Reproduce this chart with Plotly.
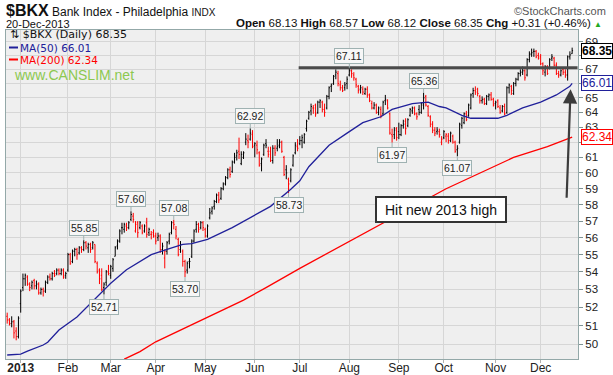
import math
import pandas as pd
import plotly.graph_objects as go

# ---------------- data ----------------
holidays = ["2012-12-25", "2013-01-01", "2013-01-21", "2013-02-18", "2013-03-29",
            "2013-05-27", "2013-07-04", "2013-09-02", "2013-11-28"]
dates = [d.strftime("%Y-%m-%d") for d in pd.bdate_range("2012-12-21", "2013-12-20")
         if d.strftime("%Y-%m-%d") not in holidays]

opens = [
    # Dec 2012
    51.5, 51.3, 51.1, 51.2, 50.7, 50.4,
    # Jan
    52.2, 53.1, 53.6, 53.7, 53.3, 53.2, 53.5, 53.2, 53.3, 52.8, 53.0, 52.9, 53.4, 53.7, 53.6, 53.9, 53.9, 54.1, 53.9, 54.1, 53.8,
    # Feb
    54.1, 55.0, 54.6, 55.2, 55.3, 55.1, 55.4, 55.3, 55.7, 55.4, 55.6, 55.4, 55.6, 54.5, 54.1, 53.8, 53.1, 53.4, 54.0,
    # Mar
    53.8, 54.2, 54.9, 55.5, 55.8, 56.6, 56.5, 56.7, 56.6, 57.1, 57.3, 56.4, 56.9, 56.6, 56.7, 56.4, 56.9, 56.3, 56.2, 56.3,
    # Apr
    56.1, 56.0, 56.1, 55.3, 54.8, 55.2, 55.8, 56.3, 56.9, 56.5, 55.9, 55.3, 55.2, 54.6, 54.1, 54.6, 54.9, 55.8, 56.5, 56.8, 56.6, 56.9,
    # May
    56.5, 56.1, 57.2, 57.6, 57.9, 58.2, 58.6, 58.4, 59.0, 59.3, 59.7, 60.2, 60.1, 60.7, 61.1, 61.4, 60.6, 61.0, 62.0, 62.1, 62.2, 62.5,
    # Jun
    61.8, 61.8, 61.3, 60.6, 61.2, 61.9, 61.4, 61.4, 60.8, 61.6, 61.6, 61.8, 62.0, 61.0, 60.2, 59.6, 59.5, 60.5, 61.3, 61.7,
    # Jul
    61.9, 62.1, 62.0, 62.9, 63.6, 64.1, 64.3, 64.5, 64.0, 64.7, 64.7, 64.2, 64.3, 65.1, 65.8, 66.0, 66.6, 66.7, 65.9, 65.7, 65.7, 66.0,
    # Aug
    66.6, 66.9, 66.6, 66.3, 65.8, 65.6, 65.6, 65.3, 65.6, 65.2, 64.6, 64.3, 64.5, 64.0, 64.2, 63.9, 64.8, 64.8, 63.9, 62.5, 62.5, 62.9,
    # Sep
    62.7, 62.5, 63.1, 63.4, 63.1, 63.8, 64.1, 64.3, 63.9, 64.2, 64.0, 64.5, 65.1, 64.4, 63.7, 63.2, 62.8, 62.7, 62.7, 62.0,
    # Oct
    62.3, 62.4, 62.4, 62.1, 62.4, 62.0, 61.5, 62.0, 63.1, 63.3, 63.9, 63.8, 64.3, 65.3, 65.5, 65.6, 65.1, 64.8, 64.9, 64.6, 65.1, 65.2, 64.9,
    # Nov
    64.6, 64.8, 64.3, 64.1, 64.4, 64.0, 65.7, 65.8, 65.3, 66.0, 66.3, 66.7, 66.8, 66.9, 66.6, 67.7, 68.1, 68.3, 68.3, 68.0,
    # Dec
    67.9, 67.4, 66.8, 67.2, 67.1, 67.8, 67.8, 67.3, 66.7, 66.6, 67.0, 66.8, 66.6, 67.9, 68.13,
]
highs = [
    51.7, 51.4, 51.5, 51.3, 50.9, 51.5,
    53.0, 53.9, 53.9, 53.8, 53.4, 53.5, 53.6, 53.5, 53.4, 53.1, 53.1, 53.5, 53.8, 53.9, 54.0, 54.1, 54.2, 54.2, 54.2, 54.2, 54.0,
    55.1, 55.1, 55.3, 55.4, 55.4, 55.5, 55.5, 55.85, 55.8, 55.7, 55.7, 55.8, 55.6, 54.6, 54.2, 54.2, 53.4, 54.1, 54.4,
    54.4, 54.8, 55.5, 55.9, 56.5, 56.9, 56.9, 56.9, 57.0, 57.6, 57.5, 57.0, 57.0, 57.0, 56.8, 56.8, 57.2, 56.6, 56.4, 56.5,
    56.3, 56.3, 56.2, 55.7, 55.3, 55.8, 56.3, 57.0, 57.08, 56.7, 56.0, 55.8, 55.3, 54.7, 54.6, 54.8, 55.9, 56.5, 57.0, 56.9, 57.0, 57.0,
    56.6, 56.8, 57.8, 57.9, 58.3, 58.7, 58.8, 59.1, 59.4, 59.8, 60.3, 60.4, 60.8, 61.3, 61.5, 62.3, 61.4, 61.4, 62.6, 62.5, 62.92, 62.8,
    62.0, 62.1, 61.4, 61.0, 61.9, 62.2, 61.7, 61.7, 61.8, 61.8, 62.2, 62.2, 62.1, 61.1, 60.5, 59.7, 60.3, 61.2, 62.0, 62.2,
    62.4, 62.5, 62.6, 63.5, 64.1, 64.6, 64.5, 64.6, 64.8, 64.9, 64.8, 64.6, 65.2, 65.8, 66.0, 66.6, 67.0, 66.9, 66.2, 65.9, 66.1, 66.5,
    67.11, 67.0, 66.8, 66.4, 65.9, 65.9, 65.8, 65.7, 65.8, 65.3, 64.8, 64.7, 64.6, 64.4, 64.4, 64.8, 65.2, 64.9, 64.0, 62.9, 63.0, 63.0,
    63.3, 63.2, 63.5, 63.6, 63.6, 64.3, 64.4, 64.4, 64.0, 64.5, 64.7, 65.36, 65.2, 64.5, 63.8, 63.4, 63.0, 63.0, 62.9, 62.4,
    62.8, 62.6, 62.6, 62.7, 62.5, 62.1, 61.8, 63.3, 63.7, 64.0, 64.1, 64.6, 65.3, 65.7, 65.8, 65.7, 65.2, 65.1, 65.0, 65.2, 65.3, 65.4, 65.0,
    64.8, 64.9, 64.5, 64.5, 64.6, 65.8, 66.0, 65.9, 66.1, 66.4, 66.8, 67.0, 67.2, 67.0, 67.8, 68.3, 68.5, 68.5, 68.4, 68.2,
    68.1, 67.5, 67.3, 67.3, 67.8, 68.1, 67.9, 67.5, 66.9, 67.0, 67.1, 67.0, 68.0, 68.3, 68.57,
]
lows = [
    51.1, 51.0, 50.9, 50.3, 50.2, 50.3,
    51.7, 52.9, 53.2, 53.2, 52.9, 53.0, 53.0, 53.0, 52.7, 52.7, 52.6, 52.8, 53.3, 53.5, 53.5, 53.7, 53.8, 53.8, 53.8, 53.6, 53.6,
    54.0, 54.4, 54.5, 54.9, 54.7, 55.0, 55.1, 55.2, 55.3, 55.1, 55.1, 55.3, 54.5, 53.9, 53.3, 52.9, 52.71, 53.2, 53.8,
    53.6, 54.0, 54.9, 55.3, 55.7, 56.2, 56.3, 56.4, 56.5, 57.0, 56.9, 56.3, 56.0, 56.5, 56.2, 56.3, 56.0, 56.1, 55.9, 56.0,
    55.6, 55.8, 55.1, 55.0, 54.2, 55.0, 55.6, 56.2, 56.5, 55.9, 54.9, 55.1, 54.3, 53.70, 53.9, 54.2, 54.8, 55.7, 56.3, 56.3, 56.5, 56.4,
    56.0, 56.0, 57.1, 57.4, 57.7, 58.1, 58.1, 58.3, 58.9, 59.2, 59.6, 59.7, 60.0, 60.6, 60.8, 60.9, 60.5, 60.9, 61.8, 61.6, 62.1, 61.6,
    61.0, 61.2, 60.4, 60.1, 61.1, 61.6, 61.0, 60.7, 60.6, 61.1, 61.4, 61.6, 61.3, 59.8, 59.6, 58.73, 59.4, 60.4, 61.2, 61.4,
    61.8, 61.6, 61.9, 62.7, 63.5, 63.8, 63.9, 63.7, 63.9, 64.3, 64.0, 63.7, 64.2, 64.9, 65.4, 65.9, 66.3, 65.8, 65.5, 65.4, 65.5, 65.6,
    66.5, 66.4, 66.2, 65.7, 65.3, 65.3, 65.2, 65.2, 65.0, 64.7, 64.2, 64.2, 63.9, 63.8, 63.6, 63.8, 64.5, 64.2, 62.5, 61.97, 62.2, 62.1,
    62.2, 62.4, 62.9, 62.5, 63.0, 63.7, 63.9, 63.8, 63.5, 63.8, 63.9, 64.2, 64.4, 63.7, 63.0, 62.6, 62.4, 62.5, 62.3, 61.8,
    62.2, 62.0, 61.9, 62.0, 61.9, 61.3, 61.07, 61.9, 62.9, 63.2, 63.4, 63.7, 64.2, 65.0, 65.2, 65.1, 64.6, 64.6, 64.5, 64.5, 64.8, 64.8, 64.4,
    64.2, 64.3, 63.9, 64.0, 63.8, 63.9, 65.3, 65.2, 65.2, 65.8, 66.2, 66.5, 66.6, 66.2, 66.5, 67.5, 67.9, 67.9, 67.8, 67.7,
    67.3, 66.6, 66.5, 66.6, 67.0, 67.6, 67.2, 66.6, 66.4, 66.5, 66.6, 66.4, 66.2, 67.7, 68.12,
]
closes = [
    51.3, 51.1, 51.2, 50.6, 50.4, 51.4,
    52.9, 53.6, 53.8, 53.3, 53.1, 53.4, 53.2, 53.3, 52.8, 53.0, 52.9, 53.4, 53.7, 53.6, 53.9, 53.8, 54.1, 53.9, 54.1, 53.7, 53.9,
    55.0, 54.5, 55.2, 55.3, 55.0, 55.4, 55.3, 55.7, 55.5, 55.6, 55.3, 55.7, 54.6, 54.0, 53.6, 53.0, 53.3, 54.0, 53.9,
    54.3, 54.7, 55.4, 55.8, 56.4, 56.6, 56.8, 56.6, 56.9, 57.4, 57.1, 56.8, 56.3, 56.9, 56.3, 56.7, 56.2, 56.5, 56.2, 56.1,
    55.8, 56.1, 55.3, 55.5, 55.2, 55.7, 56.2, 56.9, 56.8, 56.1, 55.0, 55.6, 54.6, 54.0, 54.5, 54.6, 55.8, 56.4, 56.8, 56.5, 56.9, 56.6,
    56.1, 56.7, 57.5, 57.8, 58.2, 58.6, 58.3, 59.0, 59.3, 59.7, 60.2, 59.9, 60.7, 61.0, 61.3, 61.2, 61.2, 61.3, 62.2, 62.0, 62.6, 61.7,
    61.9, 61.5, 60.5, 60.9, 61.8, 61.8, 61.2, 60.8, 61.6, 61.3, 61.7, 62.0, 61.4, 59.9, 60.0, 59.3, 60.2, 61.1, 61.8, 61.6,
    62.1, 62.3, 62.5, 63.4, 64.0, 64.4, 64.3, 63.9, 64.7, 64.8, 64.2, 64.0, 65.1, 65.7, 65.9, 66.5, 66.8, 66.0, 65.7, 65.5, 65.9, 66.3,
    66.9, 66.7, 66.4, 65.9, 65.5, 65.7, 65.4, 65.6, 65.2, 64.8, 64.3, 64.5, 64.0, 64.3, 63.8, 64.7, 64.9, 64.3, 62.6, 62.4, 62.8, 62.3,
    62.5, 63.1, 63.2, 62.9, 63.5, 64.2, 64.3, 63.9, 63.7, 64.0, 64.6, 65.0, 64.5, 63.8, 63.2, 62.8, 62.6, 62.8, 62.5, 62.2,
    62.7, 62.5, 62.1, 62.6, 62.0, 61.4, 61.6, 63.2, 63.6, 63.9, 63.5, 64.5, 65.2, 65.5, 65.4, 65.3, 64.8, 64.9, 64.6, 65.1, 65.2, 64.9, 64.5,
    64.7, 64.4, 64.0, 64.4, 63.9, 65.7, 65.9, 65.5, 66.0, 66.3, 66.7, 66.8, 66.9, 66.4, 67.7, 68.1, 68.2, 68.3, 67.9, 67.8,
    67.4, 66.9, 67.2, 66.7, 67.7, 67.9, 67.3, 66.7, 66.6, 66.9, 66.8, 66.6, 67.9, 68.04, 68.35,
]

ma50_dates = ["2012-12-21", "2013-01-02", "2013-01-07", "2013-01-09", "2013-01-16", "2013-01-18",
              "2013-01-28", "2013-02-07", "2013-02-21", "2013-03-01", "2013-03-12", "2013-03-27",
              "2013-04-08", "2013-04-17", "2013-04-23", "2013-05-02", "2013-05-17", "2013-05-30",
              "2013-06-12", "2013-06-25", "2013-07-01", "2013-07-08", "2013-07-19", "2013-07-31",
              "2013-08-09", "2013-08-21", "2013-08-28", "2013-09-11", "2013-09-20", "2013-09-27",
              "2013-10-02", "2013-10-11", "2013-10-17", "2013-10-24", "2013-11-04", "2013-11-08",
              "2013-11-19", "2013-12-02", "2013-12-11", "2013-12-19", "2013-12-20"]
ma50_values = [49.42, 49.47, 49.62, 49.72, 49.95, 50.1,
               50.75, 51.46, 52.56, 53.35, 54.12, 55.0,
               55.3, 55.6, 55.65, 55.9, 56.6, 57.2,
               57.9, 58.97, 59.5, 60.4, 61.8, 62.6,
               63.3, 63.7, 64.2, 64.6, 64.7, 64.4,
               64.3, 63.8, 63.6, 63.6, 63.6, 63.8,
               64.3, 64.7, 65.2, 65.8, 66.01]

ma200_dates = ["2013-03-11", "2013-03-20", "2013-04-01", "2013-05-24", "2013-06-10", "2013-07-01",
               "2013-10-02", "2013-10-23", "2013-11-13", "2013-12-05", "2013-12-20"]
ma200_values = [49.2, 49.6, 50.12, 52.4, 53.1, 54.2, 59.0, 60.0, 61.0, 61.7, 62.34]

month_ticks = ["2013-01-02", "2013-02-01", "2013-03-01", "2013-04-01", "2013-05-01", "2013-06-03",
               "2013-07-01", "2013-08-01", "2013-09-03", "2013-10-01", "2013-11-01", "2013-12-02"]
month_labels = ["<b>2013</b>", "Feb", "Mar", "Apr", "May", "Jun", "Jul", "Aug", "Sep", "Oct", "Nov", "Dec"]

price_ticks = list(range(50, 70))
hidden_tick_labels = [62, 66, 68]   # covered by the value tags on the right edge

# labelled swing points: (date, kind)
swing_points = [("2013-02-12", "high"), ("2013-02-26", "low"), ("2013-03-14", "high"),
                ("2013-04-11", "high"), ("2013-04-18", "low"), ("2013-05-30", "high"),
                ("2013-06-24", "low"), ("2013-08-01", "high"), ("2013-08-28", "low"),
                ("2013-09-18", "high"), ("2013-10-09", "low")]

resistance_level = 67.11
resistance_start = "2013-07-01"

# ---------------- figure ----------------
ARIAL = "Liberation Sans, Arial, sans-serif"
VERD = "DejaVu Sans, Verdana, sans-serif"
BLACK = "#000000"
RED = "#ff0000"
NAVY = "#20209a"

prev = [opens[0]] + closes[:-1]
up_idx = [i for i in range(len(closes)) if closes[i] >= prev[i]]
dn_idx = [i for i in range(len(closes)) if closes[i] < prev[i]]

fig = go.Figure()


def ohlc_trace(idx, color):
    return go.Ohlc(
        x=[dates[i] for i in idx], open=[opens[i] for i in idx], high=[highs[i] for i in idx],
        low=[lows[i] for i in idx], close=[closes[i] for i in idx],
        increasing=dict(line=dict(color=color, width=1)),
        decreasing=dict(line=dict(color=color, width=1)),
        tickwidth=0.4, hoverinfo="skip")


fig.add_trace(go.Scatter(x=ma200_dates, y=ma200_values, mode="lines",
                         line=dict(color=RED, width=1.3), hoverinfo="skip"))
fig.add_trace(go.Scatter(x=ma50_dates, y=ma50_values, mode="lines",
                         line=dict(color=NAVY, width=1.3), hoverinfo="skip"))
fig.add_trace(ohlc_trace(up_idx, BLACK))
fig.add_trace(ohlc_trace(dn_idx, RED))

x_left = -0.53
x_right = len(dates) + 1.6
y_lo, y_hi = 49.21, 69.87

fig.update_layout(
    width=613, height=375,
    margin=dict(l=6, r=35, t=30, b=16),
    paper_bgcolor="white", plot_bgcolor="#efefef",
    showlegend=False,
    font=dict(family=ARIAL, size=11, color="#222"),
    xaxis=dict(type="category", categoryorder="array", categoryarray=dates,
               range=[x_left, x_right], tickmode="array", tickvals=month_ticks, ticktext=month_labels,
               showgrid=True, gridcolor="#d6d6d6", gridwidth=1,
               ticks="outside", ticklen=3, tickcolor="#b0b0b0", ticklabelstandoff=-5,
               showline=True, mirror=True, linecolor="#93a8a8", linewidth=1,
               tickfont=dict(family=ARIAL, size=12, color="#222"),
               rangeslider=dict(visible=False), automargin=False, fixedrange=True),
    yaxis=dict(type="log", side="right", range=[math.log10(y_lo), math.log10(y_hi)],
               tickmode="array", tickvals=price_ticks,
               ticktext=["" if v in hidden_tick_labels else str(v) for v in price_ticks],
               showgrid=True, gridcolor="#d6d6d6", gridwidth=1,
               ticks="outside", ticklen=4, tickcolor="#7f9393",
               showline=True, mirror=True, linecolor="#93a8a8", linewidth=1,
               tickfont=dict(family=ARIAL, size=11.5, color="#222"),
               automargin=False, fixedrange=True),
)

# resistance line
res_i = dates.index(resistance_start)
fig.add_shape(type="line", xref="x", yref="y", x0=res_i - 0.5, x1=len(dates) + 1.4,
              y0=resistance_level, y1=resistance_level,
              line=dict(color="#4a4a4a", width=3))

ann = []
# swing labels
for d, kind in swing_points:
    i = dates.index(d)
    v = highs[i] if kind == "high" else lows[i]
    ann.append(dict(x=i, y=math.log10(v), xref="x", yref="y", text=f"{v:.2f}",
                    showarrow=True, arrowhead=0, arrowwidth=1, arrowcolor="#9fb2b2",
                    ax=0, ay=-12 if kind == "high" else 12, standoff=0,
                    bgcolor="#f7f7f7", bordercolor="#9fb2b2", borderwidth=1, borderpad=1,
                    font=dict(family=ARIAL, size=10.5, color="#222")))

# right-side price tags
for val, col, bold in [(closes[-1], BLACK, True), (ma50_values[-1], NAVY, False),
                       (ma200_values[-1], RED, False)]:
    txt = f"{val:.2f}"
    ann.append(dict(x=1, xref="paper", y=math.log10(val), yref="y", xanchor="left", yanchor="middle",
                    xshift=3, text=f"<b>{txt}</b>" if bold else txt, showarrow=False,
                    bgcolor="white", bordercolor=col, borderwidth=1, borderpad=0,
                    font=dict(family=ARIAL, size=12, color=BLACK if bold else col)))

# "Hit new 2013 high" callout
ann.append(dict(x=(507 - 6) / 572, y=(359 - 209) / 329, xref="paper", yref="paper",
                text="Hit new 2013 high", showarrow=False, width=126, height=21,
                bgcolor="white", bordercolor="#333", borderwidth=2, borderpad=1,
                font=dict(family=ARIAL, size=14, color="#111")))
ann.append(dict(x=len(dates) - 1.7, y=math.log10(65.6), xref="x", yref="y", text="",
                showarrow=True, arrowhead=2, arrowsize=1.3, arrowwidth=2.2, arrowcolor="#3c3c3c",
                ax=-4, ay=110, standoff=0))

# in-plot legend
def px_x(x):
    return (x - 6) / 572


def px_y(y):
    return (359 - y) / 329


ann.append(dict(x=px_x(8), y=px_y(35), xref="paper", yref="paper", xanchor="left", yanchor="middle",
                text=f"⇅ $BKX (Daily) {closes[-1]:.2f}", showarrow=False,
                font=dict(family=VERD, size=11, color="#111")))
ann.append(dict(x=px_x(18), y=px_y(47.5), xref="paper", yref="paper", xanchor="left", yanchor="middle",
                text=f"MA(50) {ma50_values[-1]:.2f}", showarrow=False,
                font=dict(family=VERD, size=10.5, color=NAVY)))
ann.append(dict(x=px_x(18), y=px_y(59.5), xref="paper", yref="paper", xanchor="left", yanchor="middle",
                text=f"MA(200) {ma200_values[-1]:.2f}", showarrow=False,
                font=dict(family=VERD, size=10.5, color=RED)))
ann.append(dict(x=px_x(12), y=px_y(75), xref="paper", yref="paper", xanchor="left", yanchor="middle",
                text="www.CANSLIM.net", showarrow=False,
                font=dict(family=ARIAL, size=14, color="#8cc850")))
fig.add_shape(type="line", xref="paper", yref="paper", x0=px_x(9), x1=px_x(18),
              y0=px_y(47.5), y1=px_y(47.5), line=dict(color=NAVY, width=2))
fig.add_shape(type="line", xref="paper", yref="paper", x0=px_x(9), x1=px_x(18),
              y0=px_y(59.5), y1=px_y(59.5), line=dict(color=RED, width=2))

# header
ann.append(dict(x=px_x(4), y=px_y(10), xref="paper", yref="paper", xanchor="left", yanchor="middle",
                text="<span style='font-size:16px'><b>$BKX</b></span> Bank Index - Philadelphia "
                     "<span style='font-size:10px'>INDX</span>",
                showarrow=False, font=dict(family=ARIAL, size=12, color="#111")))
ann.append(dict(x=px_x(608), y=px_y(11), xref="paper", yref="paper", xanchor="right", yanchor="middle",
                text="©StockCharts.com", showarrow=False,
                font=dict(family=ARIAL, size=11, color="#555")))
ann.append(dict(x=px_x(4), y=px_y(24), xref="paper", yref="paper", xanchor="left", yanchor="middle",
                text="20-Dec-2013", showarrow=False, font=dict(family=ARIAL, size=11, color="#111")))
chg = closes[-1] - closes[-2]
ann.append(dict(x=px_x(604), y=px_y(23.5), xref="paper", yref="paper", xanchor="right", yanchor="middle",
                text=(f"<b>Open</b> {opens[-1]:.2f} <b>High</b> {highs[-1]:.2f} <b>Low</b> {lows[-1]:.2f} "
                      f"<b>Close</b> {closes[-1]:.2f} <b>Chg</b> +{chg:.2f} (+{chg / closes[-2] * 100:.2f}%) "
                      "<span style='color:#22aa22;font-size:8px'>▲</span>"),
                showarrow=False, font=dict(family=ARIAL, size=11.5, color="#111")))

fig.update_layout(annotations=ann)
fig.write_html("out.html", config={"displayModeBar": False},
               post_script="document.body.style.margin='0';document.body.style.padding='0';"
                           "document.documentElement.style.overflow='hidden';")
